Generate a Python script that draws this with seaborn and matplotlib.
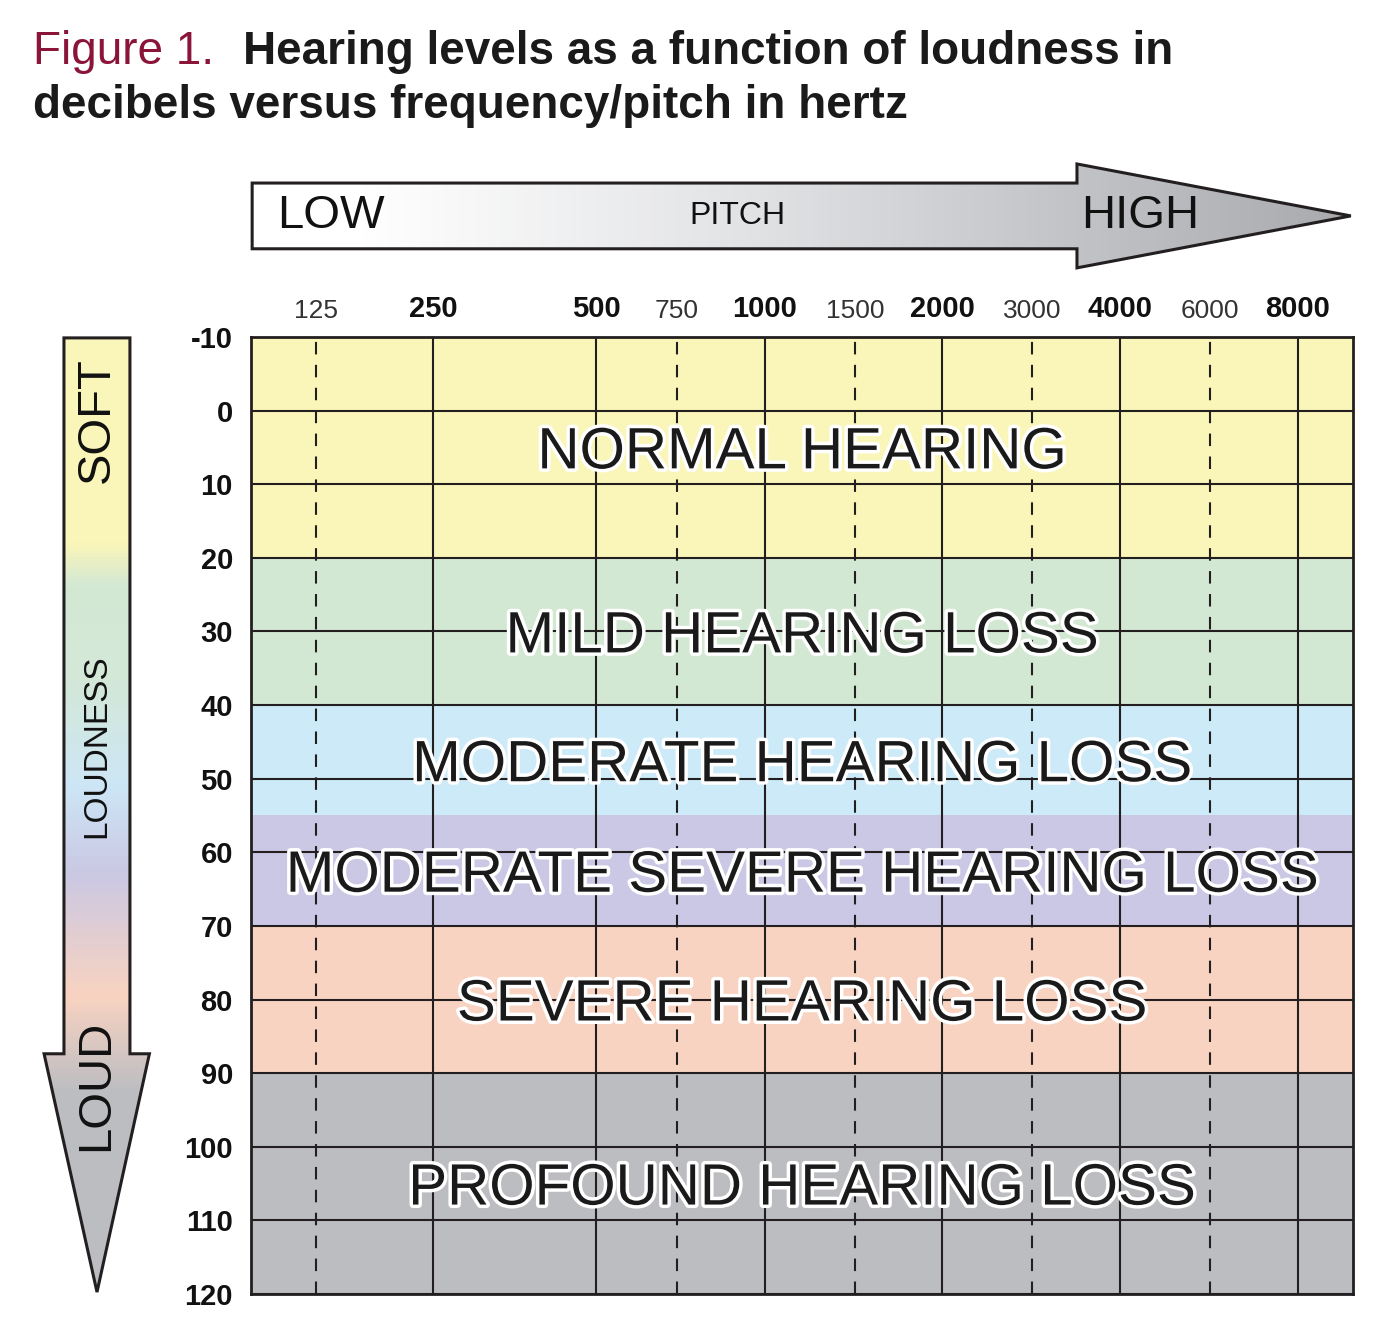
import numpy as np
import matplotlib
matplotlib.use("Agg")
import matplotlib.pyplot as plt
import matplotlib.patheffects as pe
from matplotlib.patches import Polygon
from matplotlib.colors import LinearSegmentedColormap
import seaborn as sns

# ---- data ----
freqs = [125, 250, 500, 750, 1000, 1500, 2000, 3000, 4000, 6000, 8000]
octave_freqs = [250, 500, 1000, 2000, 4000, 8000]
db_ticks = list(range(-10, 121, 10))
band_names = ['NORMAL HEARING', 'MILD HEARING LOSS', 'MODERATE HEARING LOSS',
              'MODERATE SEVERE HEARING LOSS', 'SEVERE HEARING LOSS',
              'PROFOUND HEARING LOSS']
band_low = [-10, 20, 40, 55, 70, 90]
band_high = [20, 40, 55, 70, 90, 120]
band_colors = ['#faf6b9', '#d3e8d3', '#cdeaf8', '#cac8e4', '#f9d3c1', '#bcbdc1']

# audiogram-style frequency axis (layout of the printed chart)
scale_f = [100, 125, 250, 500, 750, 1000, 1500, 2000, 3000, 4000, 6000, 8000, 10000]
scale_p = [0, 65, 182, 345, 426, 514, 604, 691, 781, 869, 959, 1047, 1102]
log_f = np.log2(scale_f)


def fwd(f):
    f = np.clip(np.asarray(f, dtype=float), 1, None)
    return np.interp(np.log2(f), log_f, scale_p)


def inv(p):
    return 2 ** np.interp(np.asarray(p, dtype=float), scale_p, log_f)


sns.set_theme(style="white")
plt.rcParams['font.family'] = ['Liberation Sans', 'DejaVu Sans']
ink = '#231f20'

fig = plt.figure(figsize=(13.87, 13.44), dpi=100)
ax = fig.add_axes([0.181, 0.0372, 0.7945, 0.7121])

for lo, hi, c in zip(band_low, band_high, band_colors):
    ax.axhspan(lo, hi, color=c, lw=0, zorder=0)

for d in db_ticks:
    ax.axhline(d, color=ink, lw=1.5, zorder=1)
for f in freqs:
    if f in octave_freqs:
        ax.axvline(f, color=ink, lw=1.5, zorder=1)
    else:
        ax.axvline(f, color=ink, lw=1.5, ls=(0, (6, 5)), zorder=1)

ax.set_xscale('function', functions=(fwd, inv))
ax.set_xlim(scale_f[0], scale_f[-1])
ax.set_ylim(120, -10)
ax.xaxis.tick_top()
ax.set_xticks(freqs)
ax.set_xticklabels([str(f) for f in freqs], fontsize=21)
for lab, f in zip(ax.get_xticklabels(), freqs):
    if f in octave_freqs:
        lab.set_fontweight('bold')
        lab.set_color('#111111')
    else:
        lab.set_fontsize(19)
        lab.set_color('#333333')
ax.set_yticks(db_ticks)
ax.set_yticklabels([str(d) for d in db_ticks], fontsize=21, fontweight='bold',
                   color='#111111')
ax.tick_params(axis='both', length=0)
ax.tick_params(axis='x', pad=10)
ax.tick_params(axis='y', pad=13)
ax.set_xlabel('')
ax.set_ylabel('')
for s in ax.spines.values():
    s.set_color(ink)
    s.set_linewidth(2)
    s.set_zorder(3)

stroke = [pe.withStroke(linewidth=5, foreground='white')]
for lo, hi, name in zip(band_low, band_high, band_names):
    ax.text(0.5, (lo + hi) / 2, name, transform=ax.get_yaxis_transform(),
            ha='center', va='center_baseline', fontsize=42, color='#1a1a1a',
            path_effects=stroke, zorder=4)

# ---- pitch arrow ----
hax = fig.add_axes([0.181, 0.7999, 0.7945, 0.0789])
hax.set_xlim(0, 1)
hax.set_ylim(0, 1)
hax.axis('off')
hcmap = LinearSegmentedColormap.from_list(
    'pitch', [(0, '#ffffff'), (0.1, '#ffffff'), (0.45, '#e2e3e5'),
              (0.75, '#c2c3c7'), (1, '#a9aaae')])
im = hax.imshow(np.linspace(0, 1, 256).reshape(1, -1), extent=[0, 1, 0, 1],
                aspect='auto', cmap=hcmap, origin='lower')
harrow = Polygon([(0.001, 0.19), (0.7495, 0.19), (0.7495, 0.01), (0.998, 0.5),
                  (0.7495, 0.99), (0.7495, 0.81), (0.001, 0.81)], closed=True,
                 fc='none', ec=ink, lw=2.2, clip_on=False)
hax.add_patch(harrow)
im.set_clip_path(harrow)
hax.text(0.024, 0.5, 'LOW', ha='left', va='center', fontsize=34, color='#111111')
hax.text(0.441, 0.5, 'PITCH', ha='center', va='center', fontsize=23, color='#111111')
hax.text(0.753, 0.5, 'HIGH', ha='left', va='center', fontsize=34, color='#111111')

# ---- loudness arrow ----
vax = fig.add_axes([0.031, 0.0372, 0.0771, 0.7121])
vax.set_xlim(0, 1)
vax.set_ylim(0, 1)
vax.axis('off')
vcmap = LinearSegmentedColormap.from_list(
    'loud', [(0, '#faf6b9'), (0.215, '#faf6b9'), (0.26, '#d3e8d3'),
             (0.36, '#d3e8d8'), (0.47, '#cde6f6'), (0.56, '#cac8e4'),
             (0.69, '#f9d3c1'), (0.79, '#bcbdc1'), (1, '#bcbdc1')])
im2 = vax.imshow(np.linspace(0, 1, 256).reshape(-1, 1), extent=[0, 1, 0, 1],
                 aspect='auto', cmap=vcmap, origin='upper')
varrow = Polygon([(0.196, 0.999), (0.813, 0.999), (0.813, 0.251), (0.995, 0.251),
                  (0.505, 0.002), (0.01, 0.251), (0.196, 0.251)], closed=True,
                 fc='none', ec=ink, lw=2.2, clip_on=False)
vax.add_patch(varrow)
im2.set_clip_path(varrow)
vax.text(0.5, 0.913, 'SOFT', rotation=90, ha='center', va='center',
         fontsize=34, color='#111111')
vax.text(0.5, 0.572, 'LOUDNESS', rotation=90, ha='center', va='center',
         fontsize=24, color='#111111')
vax.text(0.5, 0.218, 'LOUD', rotation=90, ha='center', va='center',
         fontsize=34, color='#111111')

# ---- title ----
fig.text(0.0238, 0.9524, 'Figure 1.', color='#8a1538', fontsize=33,
         va='baseline', ha='left')
fig.text(0.1752, 0.9524, 'Hearing levels as a function of loudness in',
         color='#1a1a1a', fontsize=33, fontweight='bold', va='baseline', ha='left')
fig.text(0.0238, 0.9122, 'decibels versus frequency/pitch in hertz',
         color='#1a1a1a', fontsize=33, fontweight='bold', va='baseline', ha='left')

fig.savefig('out.png', dpi=100)
